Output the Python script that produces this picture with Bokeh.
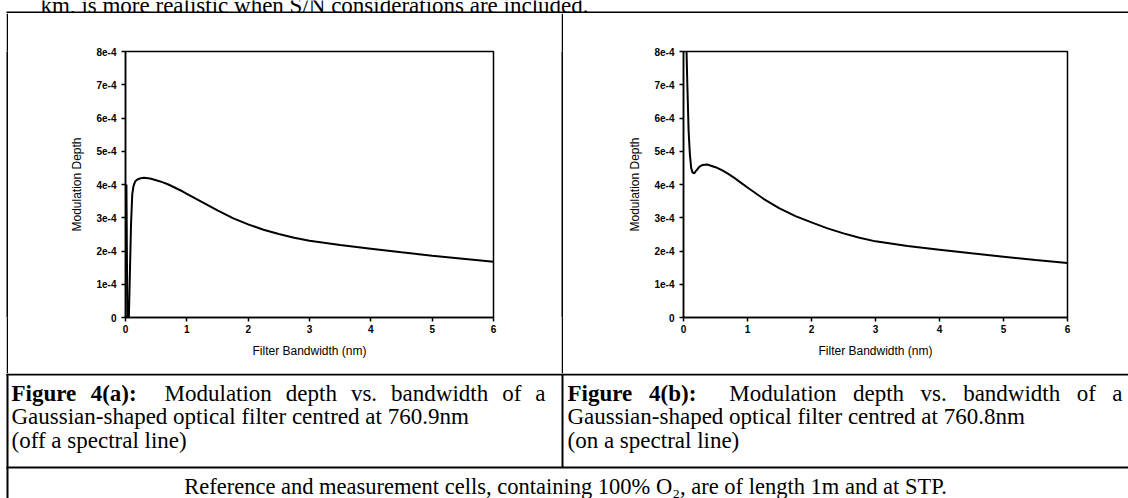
from bokeh.plotting import figure
from bokeh.layouts import row, column
from bokeh.models import Range1d, FixedTicker
from bokeh.core.properties import value
from bokeh.embed import file_html
from bokeh.resources import INLINE

# ---------------- data ----------------
bw_a = [0.015, 0.03, 0.055, 0.075, 0.09, 0.11, 0.13, 0.16, 0.2, 0.25, 0.3, 0.4, 0.5,
        0.6, 0.7, 0.8, 0.9, 1.0, 1.25, 1.5, 1.75, 2.0, 2.25, 2.5, 2.75, 3.0, 3.5,
        4.0, 4.5, 5.0, 5.5, 6.0]
md_a = [4.0e-4, -0.05e-4, 0.0, 1.6e-4, 2.8e-4, 3.7e-4, 3.95e-4, 4.1e-4, 4.16e-4, 4.19e-4,
        4.2e-4, 4.18e-4, 4.13e-4, 4.07e-4, 4.0e-4, 3.91e-4, 3.82e-4, 3.72e-4, 3.47e-4,
        3.22e-4, 2.99e-4, 2.8e-4, 2.64e-4, 2.51e-4, 2.4e-4, 2.31e-4, 2.18e-4, 2.07e-4,
        1.96e-4, 1.86e-4, 1.77e-4, 1.68e-4]

bw_b = [0.04, 0.06, 0.08, 0.1, 0.12, 0.14, 0.17, 0.2, 0.25, 0.3, 0.37, 0.5, 0.6,
        0.7, 0.8, 0.9, 1.0, 1.25, 1.5, 1.75, 2.0, 2.25, 2.5, 2.75, 3.0, 3.5, 4.0, 4.5,
        5.0, 5.5, 6.0]
md_b = [8.6e-4, 7.0e-4, 5.6e-4, 4.9e-4, 4.5e-4, 4.36e-4, 4.34e-4, 4.42e-4, 4.54e-4,
        4.59e-4, 4.6e-4, 4.52e-4, 4.43e-4, 4.32e-4, 4.19e-4, 4.05e-4, 3.91e-4, 3.57e-4,
        3.28e-4, 3.05e-4, 2.86e-4, 2.68e-4, 2.53e-4, 2.4e-4, 2.29e-4, 2.15e-4, 2.04e-4,
        1.93e-4, 1.83e-4, 1.73e-4, 1.64e-4]

x_ticks = [0, 1, 2, 3, 4, 5, 6]
y_ticks = [0, 1e-4, 2e-4, 3e-4, 4e-4, 5e-4, 6e-4, 7e-4, 8e-4]
y_tick_labels = ["0", "1e-4", "2e-4", "3e-4", "4e-4", "5e-4", "6e-4", "7e-4", "8e-4"]
x_title = "Filter Bandwidth (nm)"
y_title = "Modulation Depth"

top_text = "km, is more realistic when S/N considerations are included."
cap_bold = ["Figure 4(a):", "Figure 4(b):"]
cap_first = ["Modulation depth vs. bandwidth of a", "Modulation depth vs. bandwidth of a"]
cap_more = [["Gaussian-shaped optical filter centred at 760.9nm", "(off a spectral line)"],
            ["Gaussian-shaped optical filter centred at 760.8nm", "(on a spectral line)"]]
footer_text = "Reference and measurement cells, containing 100% O\u2082, are of length 1m and at STP."

SERIF = "Liberation Serif"
SANS = "Liberation Sans"
CAP_PX = 23
FOOT_SIZE = "22.5px"
PAGE_W = 1128

# Liberation Serif (Times-compatible) advance widths, per 1000 em, for justifying line 1
W_REG = {'M': 889, 'o': 500, 'd': 500, 'u': 500, 'l': 278, 'a': 444, 't': 278, 'i': 278,
         'n': 500, 'e': 444, 'p': 500, 'h': 500, 'v': 500, 's': 389, '.': 250, 'b': 500,
         'w': 722, 'f': 333, ' ': 250}
W_BOLD = {'F': 611, 'i': 278, 'g': 500, 'u': 556, 'r': 444, 'e': 444, '4': 500, '(': 333,
          'a': 500, ')': 333, ':': 333, 'b': 556, ' ': 250}


def width(word, table):
    return sum(table.get(c, 500) for c in word) / 1000.0 * CAP_PX


def bare(w, h, fill="white"):
    f = figure(width=w, height=h, toolbar_location=None, output_backend="svg",
               x_range=Range1d(0, w), y_range=Range1d(h, 0), min_border=0,
               x_axis_location=None, y_axis_location=None)
    f.grid.visible = False
    f.outline_line_color = None
    f.background_fill_color = fill
    f.border_fill_color = fill
    return f


def rule(f, left, right, top, bottom):
    f.quad(left=[left], right=[right], top=[top], bottom=[bottom],
           fill_color="black", line_color=None)


def plot_fig(w, h, left, right, top, bottom, xs, ys):
    p = figure(width=w, height=h, toolbar_location=None, output_backend="svg",
               x_range=Range1d(0, 6), y_range=Range1d(0, 8e-4),
               min_border_left=left, min_border_right=right,
               min_border_top=top, min_border_bottom=bottom)
    p.grid.visible = False
    p.outline_line_color = "black"
    p.outline_line_width = 1.5
    p.xaxis.ticker = FixedTicker(ticks=x_ticks)
    p.yaxis.ticker = FixedTicker(ticks=y_ticks)
    p.yaxis.major_label_overrides = dict(zip(y_ticks, y_tick_labels))
    p.xaxis.axis_label = x_title
    p.yaxis.axis_label = y_title
    for ax in (p.xaxis[0], p.yaxis[0]):
        ax.axis_line_width = 1.5
        ax.axis_line_color = "black"
        ax.major_tick_in = 0
        ax.major_tick_out = 4
        ax.major_tick_line_width = 1.5
        ax.minor_tick_line_color = None
        ax.major_label_text_font = SANS
        ax.major_label_text_font_style = "bold"
        ax.major_label_text_font_size = "10px"
        ax.major_label_text_color = "black"
        ax.axis_label_text_font = SANS
        ax.axis_label_text_font_style = "normal"
        ax.axis_label_text_font_size = "12px"
        ax.axis_label_text_color = "black"
    p.xaxis.major_label_standoff = 3
    p.xaxis.axis_label_standoff = 8
    p.yaxis.major_label_standoff = 5
    p.yaxis.axis_label_standoff = 9
    p.line(xs, ys, line_color="black", line_width=2)
    return p


def justified_line(f, x0, x1, y, bold_text, rest_text):
    """Lay the words of a caption's first line out justified between x0 and x1."""
    words = [(w, "bold") for w in bold_text.split(" ")] + [(w, "normal") for w in rest_text.split(" ")]
    spaces = [1] * (len(words) - 1)
    spaces[len(bold_text.split(" ")) - 1] = 2      # double space after the colon
    widths = [width(w, W_BOLD if s == "bold" else W_REG) for w, s in words]
    gap = (x1 - x0 - sum(widths)) / sum(spaces)
    x = x0
    for i, ((w, style), wd) in enumerate(zip(words, widths)):
        f.text(x=[x], y=[y], text=[w], text_font=value(SERIF), text_font_style=style,
               text_font_size=f"{CAP_PX}px", text_baseline="middle", text_color="black")
        if i < len(spaces):
            x += wd + gap * spaces[i]


# ---- top strip: cut-off sentence + table top rule ----
top = bare(PAGE_W, 13)
top.text(x=[40], y=[4.5], text=[top_text], text_font=value(SERIF), text_font_size=f"{CAP_PX}px",
         text_baseline="alphabetic", text_color="black")
rule(top, 6, PAGE_W, 11, 13)

# ---- plot row ----
gap_fig = bare(6, 360)
vl1 = bare(2, 360, fill="black")
pa = plot_fig(553, 360, 117, 68, 37, 56, bw_a, md_a)
vl2 = bare(2, 360, fill="black")
pb = plot_fig(565, 360, 120, 61, 38, 44, bw_b, md_b)

# ---- captions + footer ----
bot = bare(PAGE_W, 125)
rule(bot, 6, PAGE_W, 0, 2)
rule(bot, 6, 8, 0, 125)
rule(bot, 561, 563, 0, 94)
rule(bot, 6, PAGE_W, 93, 95)

cap_left = [11, 567]
cap_right = [545, 1122]
line_y = [20, 43, 67]
for k in range(2):
    justified_line(bot, cap_left[k], cap_right[k], line_y[0], cap_bold[k], cap_first[k])
    bot.text(x=[cap_left[k]] * 2, y=line_y[1:], text=cap_more[k], text_font=value(SERIF),
             text_font_size=f"{CAP_PX}px", text_baseline="middle", text_color="black")

bot.text(x=[565], y=[113], text=[footer_text], text_font=value(SERIF), text_font_size=FOOT_SIZE,
         text_align="center", text_baseline="middle", text_color="black")

layout = column(top, row(gap_fig, vl1, pa, vl2, pb), bot)

open("out.html", "w").write(file_html(layout, INLINE))
